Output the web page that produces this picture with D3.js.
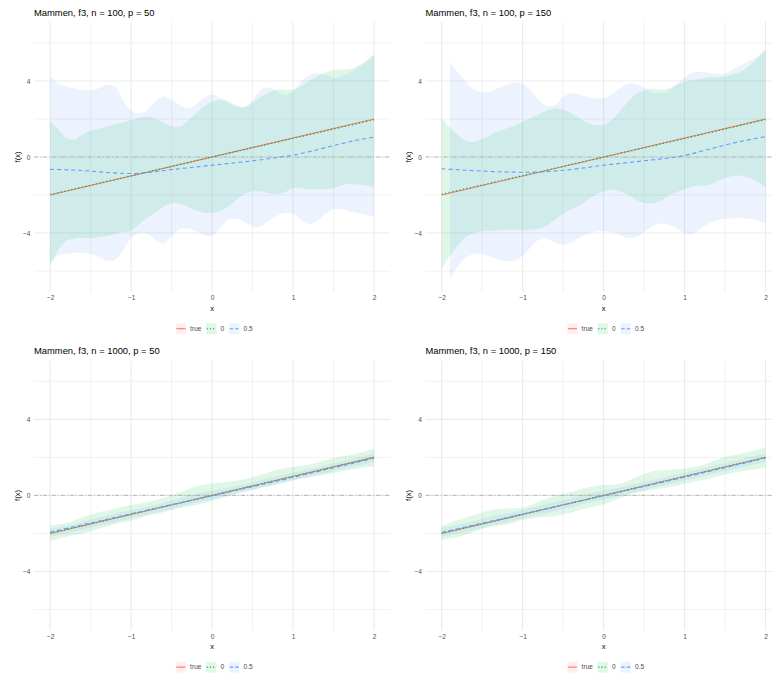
<!DOCTYPE html>
<html><head><meta charset="utf-8">
<script src="https://cdn.jsdelivr.net/npm/d3@7"></script>
<style>body{margin:0;background:#fff}svg{display:block}text{font-family:"Liberation Sans",Arial,sans-serif}</style>
</head><body><div id="chart"></div>
<script>
// ---- data ----
const titles = ["Mammen, f3, n = 100, p = 50","Mammen, f3, n = 100, p = 150","Mammen, f3, n = 1000, p = 50","Mammen, f3, n = 1000, p = 150"];
const seriesNames = ["true","0","0.5"];
const xTicks = [-2,-1,0,1,2];
const xMinor = [-1.5,-0.5,0.5,1.5];
const yTicks = [-4,0,4];
const yMinor = [-6,-2,2,6];
const trueX = [-2,2];
const trueY = [-2,2];
// ribbons of the top panels on a 0.1 grid
const xTop = [-2,-1.9,-1.8,-1.7,-1.6,-1.5,-1.4,-1.3,-1.2,-1.1,-1,-0.9,-0.8,-0.7,-0.6,-0.5,-0.4,-0.3,-0.2,-0.1,0,0.1,0.2,0.3,0.4,0.5,0.6,0.7,0.8,0.9,1,1.1,1.2,1.3,1.4,1.5,1.6,1.7,1.8,1.9,2];
const tlGreenHi = [1.9,1.45,1.0,0.92,1.2,1.38,1.5,1.6,1.72,1.82,1.95,2.05,2.12,2.0,1.8,1.62,1.58,1.9,2.3,2.65,2.9,3.0,2.85,2.65,2.6,2.85,3.15,3.4,3.55,3.55,3.55,3.75,4.0,4.25,4.45,4.58,4.6,4.62,4.8,5.05,5.42];
const tlGreenLo = [-5.7,-4.9,-4.4,-4.3,-4.25,-4.28,-4.22,-4.15,-4.05,-3.95,-3.88,-3.55,-3.2,-2.9,-2.6,-2.44,-2.45,-2.6,-2.8,-2.93,-2.95,-2.85,-2.6,-2.25,-1.95,-1.8,-1.8,-1.9,-1.95,-1.85,-1.65,-1.65,-1.7,-1.7,-1.68,-1.65,-1.5,-1.42,-1.45,-1.5,-1.58];
const tlBlueHi = [4.25,3.85,3.7,3.62,3.52,3.5,3.62,3.8,3.7,3.0,2.45,2.3,2.45,2.9,3.2,3.0,2.75,2.55,2.75,3.1,3.3,3.12,2.95,2.74,2.65,3.0,3.53,3.65,3.47,3.25,3.44,3.96,4.3,4.4,4.32,4.15,4.25,4.45,4.7,5.0,5.35];
const tlBlueLo = [-5.6,-5.2,-5.1,-5.05,-5.05,-5.1,-5.25,-5.45,-5.4,-4.9,-4.25,-4.0,-4.05,-4.35,-4.55,-4.2,-3.8,-3.75,-3.9,-4.1,-4.15,-3.75,-3.3,-3.25,-3.4,-3.65,-3.65,-3.35,-3.1,-2.95,-3.0,-3.3,-3.55,-3.35,-3.0,-2.75,-2.75,-2.85,-2.95,-3.05,-3.15];
const trGreenHi = [2.05,1.55,1.15,0.85,0.8,0.95,1.15,1.35,1.5,1.65,1.85,2.05,2.25,2.45,2.55,2.5,2.3,2.05,1.8,1.68,1.7,1.95,2.4,2.9,3.3,3.5,3.6,3.55,3.6,3.8,3.95,4.05,4.12,4.18,4.2,4.25,4.35,4.5,4.8,5.2,5.65];
const trGreenLo = [-5.9,-5.2,-4.65,-4.2,-4.0,-3.9,-3.88,-3.85,-3.84,-3.84,-3.84,-3.82,-3.78,-3.6,-3.3,-3.0,-2.75,-2.55,-2.25,-2.0,-1.8,-1.72,-1.8,-2.0,-2.25,-2.42,-2.44,-2.3,-2.05,-1.85,-1.7,-1.55,-1.5,-1.47,-1.3,-1.1,-1.0,-0.98,-1.1,-1.3,-1.6];
const trBlueHi = [null,5.0,4.45,3.95,3.55,3.4,3.45,3.62,3.8,3.9,3.85,3.5,3.0,2.7,2.75,3.15,3.35,3.3,3.15,3.08,3.1,3.3,3.6,3.85,3.85,3.65,3.4,3.35,3.45,3.8,4.2,4.42,4.48,4.45,4.38,4.4,4.62,4.85,5.05,5.3,5.65];
const trBlueLo = [null,-6.4,-5.75,-5.3,-5.1,-5.1,-5.25,-5.4,-5.48,-5.45,-5.2,-4.75,-4.35,-4.3,-4.5,-4.62,-4.5,-4.25,-4.05,-3.92,-3.9,-3.95,-4.1,-4.25,-4.22,-3.95,-3.65,-3.5,-3.55,-3.75,-4.0,-4.05,-3.75,-3.5,-3.33,-3.25,-3.22,-3.22,-3.25,-3.35,-3.5];
// ribbons of the bottom panels on a 0.2 grid
const xBot = [-2,-1.8,-1.6,-1.4,-1.2,-1,-0.8,-0.6,-0.4,-0.2,0,0.2,0.4,0.6,0.8,1,1.2,1.4,1.6,1.8,2];
const blGreenHi = [-1.58,-1.45,-1.15,-0.88,-0.7,-0.5,-0.36,-0.12,0.15,0.48,0.62,0.72,0.85,1.08,1.35,1.5,1.62,1.85,2.05,2.22,2.46];
const blGreenLo = [-2.42,-2.17,-2.0,-1.76,-1.5,-1.32,-1.07,-0.88,-0.66,-0.52,-0.3,-0.03,0.22,0.4,0.57,0.8,0.96,1.1,1.27,1.42,1.53];
const blBlueHi = [-1.75,-1.6,-1.38,-1.15,-0.97,-0.78,-0.6,-0.38,-0.15,0.08,0.24,0.4,0.58,0.8,1.02,1.2,1.37,1.58,1.8,1.98,2.2];
const blBlueLo = [-2.18,-1.99,-1.8,-1.6,-1.42,-1.2,-1.0,-0.82,-0.62,-0.4,-0.2,-0.02,0.18,0.38,0.6,0.8,0.98,1.18,1.37,1.56,1.74];
const brGreenHi = [-1.63,-1.3,-1.03,-0.78,-0.68,-0.65,-0.32,-0.02,0.18,0.42,0.55,0.6,0.95,1.27,1.35,1.4,1.58,1.88,2.12,2.28,2.54];
const brGreenLo = [-2.33,-2.2,-1.9,-1.65,-1.55,-1.3,-1.15,-1.08,-0.9,-0.66,-0.47,-0.15,0.13,0.3,0.42,0.6,0.78,0.98,1.18,1.33,1.44];
const brBlueHi = [-1.72,-1.55,-1.35,-1.12,-0.95,-0.78,-0.55,-0.35,-0.15,0.08,0.25,0.42,0.62,0.82,1.0,1.2,1.4,1.6,1.8,2.0,2.22];
const brBlueLo = [-2.18,-2.0,-1.82,-1.62,-1.42,-1.22,-1.02,-0.82,-0.62,-0.4,-0.22,-0.02,0.18,0.38,0.58,0.78,0.98,1.18,1.36,1.56,1.75];
// estimated curves on a 0.25 grid
const xLine = [-2,-1.75,-1.5,-1.25,-1,-0.75,-0.5,-0.25,0,0.25,0.5,0.75,1,1.25,1.5,1.75,2];
const tlGreenLine = [-1.97,-1.73,-1.48,-1.23,-0.99,-0.74,-0.49,-0.25,0.0,0.24,0.49,0.73,0.98,1.22,1.47,1.71,1.96];
const tlBlueLine = [-0.65,-0.68,-0.74,-0.83,-0.87,-0.8,-0.66,-0.55,-0.43,-0.32,-0.2,-0.06,0.1,0.33,0.6,0.85,1.05];
const trGreenLine = [-1.95,-1.71,-1.47,-1.22,-0.98,-0.74,-0.49,-0.25,-0.01,0.24,0.48,0.73,0.97,1.22,1.47,1.72,1.97];
const trBlueLine = [-0.62,-0.68,-0.74,-0.78,-0.8,-0.78,-0.7,-0.58,-0.43,-0.32,-0.2,-0.08,0.08,0.35,0.63,0.87,1.07];
const blGreenLine = [-1.99,-1.74,-1.49,-1.24,-0.99,-0.74,-0.5,-0.25,0.0,0.25,0.5,0.75,1.0,1.25,1.5,1.75,2.0];
const blBlueLine = [-1.93,-1.69,-1.45,-1.21,-0.97,-0.73,-0.49,-0.26,-0.02,0.22,0.46,0.7,0.95,1.2,1.45,1.7,1.95];
const brGreenLine = [-1.99,-1.74,-1.5,-1.25,-1.0,-0.75,-0.5,-0.25,0.0,0.25,0.5,0.75,1.0,1.25,1.5,1.75,2.0];
const brBlueLine = [-1.94,-1.7,-1.46,-1.22,-0.98,-0.74,-0.5,-0.26,-0.02,0.22,0.47,0.71,0.96,1.21,1.46,1.71,1.96];

// ---- drawing ----
const W = 772, H = 677;
const colors = {"true":"#F8766D","0":"#00BA38","0.5":"#619CFF"};
const dashes = {"true":null,"0":"1.2,2.4","0.5":"4,3"};
const keyDashes = {"true":null,"0":"1.2,2","0.5":"3.4,2.2"};
const fillAlpha = 0.12;

const panels = [
  {title:titles[0], left:34, top:22, xr:xTop, gHi:tlGreenHi, gLo:tlGreenLo, bHi:tlBlueHi, bLo:tlBlueLo, gLine:tlGreenLine, bLine:tlBlueLine},
  {title:titles[1], left:425.5, top:22, xr:xTop, gHi:trGreenHi, gLo:trGreenLo, bHi:trBlueHi, bLo:trBlueLo, gLine:trGreenLine, bLine:trBlueLine},
  {title:titles[2], left:34, top:360.4, xr:xBot, gHi:blGreenHi, gLo:blGreenLo, bHi:blBlueHi, bLo:blBlueLo, gLine:blGreenLine, bLine:blBlueLine},
  {title:titles[3], left:425.5, top:360.4, xr:xBot, gHi:brGreenHi, gLo:brGreenLo, bHi:brBlueHi, bLo:brBlueLo, gLine:brGreenLine, bLine:brBlueLine}
];
const PW = 356.2, PH = 270;

const svg = d3.select("#chart").append("svg").attr("width",W).attr("height",H);
svg.append("rect").attr("width",W).attr("height",H).attr("fill","#fff");

panels.forEach((p,i)=>{
  const x = d3.scaleLinear().domain([-2.2,2.2]).range([p.left,p.left+PW]);
  const y = d3.scaleLinear().domain([-7.1,7.1]).range([p.top+PH,p.top]);
  const g = svg.append("g");
  const cid = "clip"+i;
  g.append("clipPath").attr("id",cid).append("rect")
    .attr("x",p.left).attr("y",p.top).attr("width",PW).attr("height",PH);
  const plot = g.append("g").attr("clip-path",`url(#${cid})`);

  // grid
  plot.selectAll(".vmin").data(xMinor).join("line")
    .attr("x1",d=>x(d)).attr("x2",d=>x(d)).attr("y1",p.top).attr("y2",p.top+PH)
    .attr("stroke","#EBEBEB").attr("stroke-width",0.7);
  plot.selectAll(".hmin").data(yMinor).join("line")
    .attr("y1",d=>y(d)).attr("y2",d=>y(d)).attr("x1",p.left).attr("x2",p.left+PW)
    .attr("stroke","#EBEBEB").attr("stroke-width",0.7);
  plot.selectAll(".vmaj").data(xTicks).join("line")
    .attr("x1",d=>x(d)).attr("x2",d=>x(d)).attr("y1",p.top).attr("y2",p.top+PH)
    .attr("stroke","#EBEBEB").attr("stroke-width",1.1);
  plot.selectAll(".hmaj").data(yTicks).join("line")
    .attr("y1",d=>y(d)).attr("y2",d=>y(d)).attr("x1",p.left).attr("x2",p.left+PW)
    .attr("stroke","#EBEBEB").attr("stroke-width",1.1);

  // ribbons
  const area = (hi,lo)=>d3.area()
    .defined((d,k)=>hi[k]!=null && lo[k]!=null)
    .x(d=>x(d)).y0((d,k)=>y(lo[k])).y1((d,k)=>y(hi[k]))
    .curve(d3.curveCatmullRom.alpha(0.5));
  plot.append("path").attr("d",area(p.gHi,p.gLo)(p.xr))
    .attr("fill",colors["0"]).attr("fill-opacity",fillAlpha);
  plot.append("path").attr("d",area(p.bHi,p.bLo)(p.xr))
    .attr("fill",colors["0.5"]).attr("fill-opacity",fillAlpha);

  // zero reference line
  plot.append("line").attr("x1",p.left).attr("x2",p.left+PW).attr("y1",y(0)).attr("y2",y(0))
    .attr("stroke","#ABABAB").attr("stroke-width",0.8).attr("stroke-dasharray","4,2,1,2");

  // lines
  const line = (ys)=>d3.line().x(d=>x(d)).y((d,k)=>y(ys[k])).curve(d3.curveCatmullRom.alpha(0.5));
  plot.append("path").attr("d",line(trueY)(trueX)).attr("fill","none")
    .attr("stroke",colors["true"]).attr("stroke-width",1.1);
  plot.append("path").attr("d",line(p.gLine)(xLine)).attr("fill","none")
    .attr("stroke",colors["0"]).attr("stroke-width",1.2).attr("stroke-dasharray",dashes["0"]);
  plot.append("path").attr("d",line(p.bLine)(xLine)).attr("fill","none")
    .attr("stroke",colors["0.5"]).attr("stroke-width",1.1).attr("stroke-dasharray",dashes["0.5"]);

  // axes text
  const xAxis = d3.axisBottom(x).tickValues(xTicks).tickSize(0).tickPadding(0)
    .tickFormat(d=>d3.format("")(d).replace("-","\u2212"));
  const ax = g.append("g").attr("transform",`translate(0,${p.top+PH+3.6})`).call(xAxis);
  ax.select(".domain").remove();
  ax.selectAll("text").attr("font-size",6.6).attr("fill","#4D4D4D").attr("font-family","Liberation Sans, Arial, sans-serif");
  const yAxis = d3.axisLeft(y).tickValues(yTicks).tickSize(0).tickPadding(3.5)
    .tickFormat(d=>d3.format("")(d).replace("-","\u2212"));
  const ay = g.append("g").attr("transform",`translate(${p.left},0)`).call(yAxis);
  ay.select(".domain").remove();
  ay.selectAll("text").attr("font-size",6.6).attr("fill","#4D4D4D").attr("font-family","Liberation Sans, Arial, sans-serif");

  g.append("text").attr("x",x(0)).attr("y",p.top+PH+18.5).attr("text-anchor","middle")
    .attr("font-size",7.6).attr("fill","#000").text("x");
  g.append("text").attr("transform",`translate(${p.left-14.5},${p.top+PH/2}) rotate(-90)`)
    .attr("text-anchor","middle").attr("font-size",7.6).attr("fill","#000").text("f(x)");
  g.append("text").attr("x",p.left).attr("y",p.top-6).attr("font-size",9.4).attr("fill","#000").text(p.title);

  // legend
  const lg = g.append("g").attr("transform",`translate(${x(0)},${p.top+PH+36.7})`);
  const keyX = [-36.3,-6,17], txtX = [-22,8.5,31.5];
  seriesNames.forEach((s,k)=>{
    lg.append("rect").attr("x",keyX[k]).attr("y",-5.5).attr("width",10.3).attr("height",11)
      .attr("fill",colors[s]).attr("fill-opacity",fillAlpha);
    const kl = lg.append("line").attr("x1",keyX[k]+0.6).attr("x2",keyX[k]+9.7).attr("y1",0).attr("y2",0)
      .attr("stroke",colors[s]).attr("stroke-width",1.1);
    if (keyDashes[s]) kl.attr("stroke-dasharray",keyDashes[s]);
    lg.append("text").attr("x",txtX[k]).attr("y",2.3).attr("font-size",6.6).attr("fill","#4D4D4D").text(s);
  });
});
</script></body></html>
